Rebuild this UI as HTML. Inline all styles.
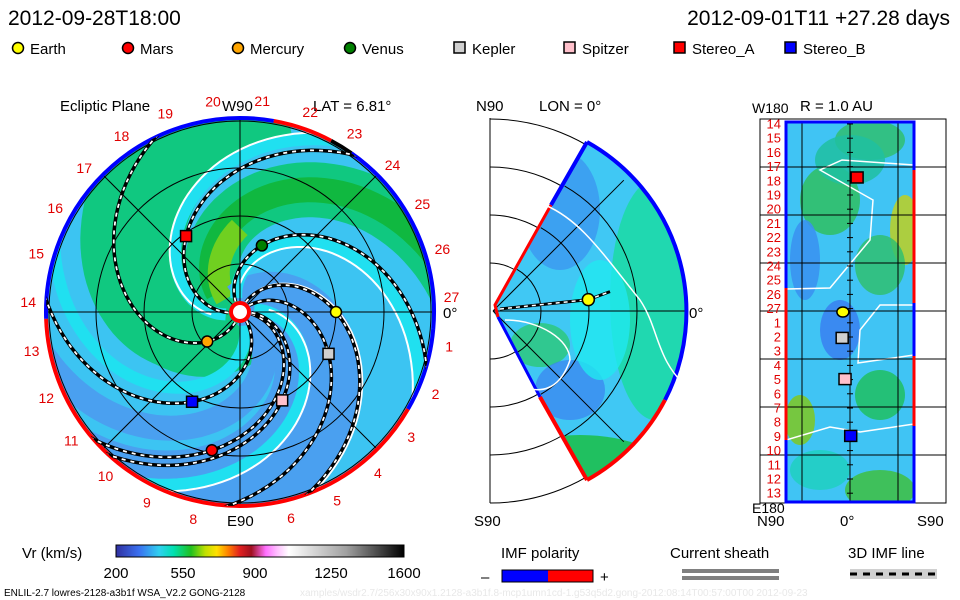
<!DOCTYPE html>
<html><head><meta charset="utf-8">
<style>
html,body{margin:0;padding:0;background:#fff;}
svg{display:block;font-family:"Liberation Sans",sans-serif;}
</style></head>
<body>
<svg id="root" width="960" height="600" viewBox="0 0 960 600" xmlns="http://www.w3.org/2000/svg">
<defs>
<clipPath id="discClip"><circle cx="240" cy="312" r="194"/></clipPath>
<clipPath id="wedgeClip"><path d="M493,311 L587,142 A194,194 0 0 1 587,480 Z"/></clipPath>
<clipPath id="rectClip"><rect x="786" y="122" width="128" height="380"/></clipPath>
<linearGradient id="cbar" x1="0" x2="1" y1="0" y2="0">
<stop offset="0" stop-color="#3030a0"/><stop offset="0.08" stop-color="#3a70f0"/>
<stop offset="0.15" stop-color="#30d0f0"/><stop offset="0.2" stop-color="#00e0b0"/>
<stop offset="0.26" stop-color="#20c020"/><stop offset="0.31" stop-color="#c0e000"/>
<stop offset="0.35" stop-color="#ffe000"/><stop offset="0.39" stop-color="#ff8000"/>
<stop offset="0.43" stop-color="#e02020"/><stop offset="0.47" stop-color="#a01020"/>
<stop offset="0.52" stop-color="#ff70ff"/><stop offset="0.56" stop-color="#ffc0ff"/>
<stop offset="0.6" stop-color="#ffffff"/><stop offset="0.8" stop-color="#a0a0a0"/>
<stop offset="1" stop-color="#000000"/></linearGradient>
</defs>

<text x="8" y="25" font-size="21">2012-09-28T18:00</text>
<text x="950" y="25" font-size="21" text-anchor="end">2012-09-01T11 +27.28 days</text>

<g id="legend" font-size="15"></g>

<g id="disc">
<text x="60" y="111" font-size="15">Ecliptic Plane</text>
<text x="222" y="111" font-size="15">W90</text>
<text x="313" y="111" font-size="15">LAT = 6.81°</text>
<text x="227" y="526" font-size="15">E90</text>
<text x="443" y="318" font-size="15">0°</text>
<circle cx="240" cy="312" r="194" fill="#3cc4f2"/>
<g id="discField" clip-path="url(#discClip)"></g>
<g id="discGrid"></g>
<g id="discBorder"></g>
<g id="discSpirals" clip-path="url(#discClip)"></g>
<g id="discLabels" font-size="14" fill="#e00000"></g>
<g id="discPlanets"></g>
</g>

<g id="mid">
<text x="476" y="111" font-size="15">N90</text>
<text x="539" y="111" font-size="15">LON = 0°</text>
<text x="474" y="526" font-size="15">S90</text>
<text x="689" y="318" font-size="15">0°</text>
<g id="midGrid"></g>
<path d="M493,311 L587,142 A194,194 0 0 1 587,480 Z" fill="#40c8f4"/>
<g id="midField" clip-path="url(#wedgeClip)"></g>
<g id="midLines"></g>
</g>

<g id="right">
<text x="800" y="111" font-size="15">R = 1.0 AU</text>
<text x="752" y="113" font-size="14">W180</text>
<text x="752" y="513" font-size="14">E180</text>
<text x="757" y="526" font-size="15">N90</text>
<text x="840" y="526" font-size="15">0°</text>
<text x="917" y="526" font-size="15">S90</text>
<rect x="760" y="119" width="186" height="384" fill="#fff" stroke="#000"/>
<rect x="786" y="122" width="128" height="380" fill="#40c4f4"/>
<g id="rightField" clip-path="url(#rectClip)"></g>
<g id="rightGrid"></g>
<g id="rightLabels" font-size="13" fill="#e00000"></g>
<g id="rightPlanets"></g>
</g>

<g>
<text x="22" y="558" font-size="15">Vr (km/s)</text>
<rect x="116" y="545" width="288" height="12" fill="url(#cbar)" stroke="#000"/>
<g font-size="15" text-anchor="middle">
<text x="116" y="578">200</text><text x="183" y="578">550</text><text x="255" y="578">900</text>
<text x="331" y="578">1250</text><text x="404" y="578">1600</text></g>
</g>
<g>
<text x="501" y="558" font-size="15">IMF polarity</text>
<text x="481" y="582" font-size="15">–</text>
<rect x="502" y="570" width="46" height="12" fill="#0000ff"/><rect x="548" y="570" width="45" height="12" fill="#ff0000"/>
<rect x="502" y="570" width="91" height="12" fill="none" stroke="#000"/>
<text x="600" y="582" font-size="15">+</text>
</g>
<g>
<text x="670" y="558" font-size="15">Current sheath</text>
<rect x="682" y="569" width="97" height="4" fill="#808080"/><rect x="682" y="576" width="97" height="4" fill="#808080"/>
</g>
<g>
<text x="848" y="558" font-size="15">3D IMF line</text>
<rect x="850" y="569" width="87" height="10" fill="#d0d0d0"/>
<line x1="850" y1="574" x2="937" y2="574" stroke="#000" stroke-width="3" stroke-dasharray="7,6"/>
</g>
<text x="4" y="596" font-size="10">ENLIL-2.7 lowres-2128-a3b1f WSA_V2.2 GONG-2128</text>
<text x="300" y="596" font-size="10" fill="#e8e8e8">xamples/wsdr2.7/256x30x90x1.2128-a3b1f.8-mcp1umn1cd-1.g53q5d2.gong-2012:08:14T00:57:00T00    2012-09-23</text>
</svg>
<script>
// ---------- data ----------
const planetNames = ["Earth","Mars","Mercury","Venus","Kepler","Spitzer","Stereo_A","Stereo_B"];
const planetShapes = ["circle","circle","circle","circle","square","square","square","square"];
const planetColors = ["#ffff00","#ff0000","#ffa500","#008000","#d0d0d0","#ffc0cb","#ff0000","#0000ff"];
const planetR = [1.0, 1.47, 0.46, 0.73, 1.02, 1.02, 0.97, 1.06];        // AU
const planetLon = [0, 258.5, 222, 71.8, 334.7, 295.5, 125.4, 241.9];    // deg
const midLat = [6.8];
const midR = [1.0];
const rightNames = ["Stereo_A","Earth","Kepler","Spitzer","Stereo_B"];
const rightLonIdx = [3.8, 13.24, 15.1, 18.0, 22.0];
const rightLat = [10, -10, -11, -7, 1];
const rotLabels = [14,15,16,17,18,19,20,21,22,23,24,25,26,27,1,2,3,4,5,6,7,8,9,10,11,12,13];
const borderSegs = [[-5,55,"#0000ff"],[55,62,"#000"],[62,80,"#ff0000"],[80,182,"#0000ff"],[182,330,"#ff0000"],[330,355,"#0000ff"]];
const greenBands = [234, 160, 268];
const greenWidths = [95, 55, 30];
const blueBands = [46, 5, 335];
const blueWidths = [55, 30, 25];
const spiralK = 68; // deg per AU

// ---------- helpers ----------
const NS="http://www.w3.org/2000/svg";
function mk(tag, attrs, parent){const e=document.createElementNS(NS,tag);for(const k in attrs)e.setAttribute(k,attrs[k]);parent.appendChild(e);return e;}
const CX=240, CY=312, AU=96;
function px(r,deg){const a=deg*Math.PI/180;return [CX+r*AU*Math.cos(a), CY-r*AU*Math.sin(a)];}
function spiralPath(phi0, r0, r1){let d="";for(let r=r0;r<=r1+1e-6;r+=0.04){const [x,y]=px(r,phi0-spiralK*r);d+=(d?"L":"M")+x.toFixed(1)+","+y.toFixed(1);}return d;}

// legend
const lg=document.getElementById("legend");
const legX=[12,122,232,344,454,564,674,785];
planetNames.forEach((n,i)=>{
  const g=mk("g",{},lg);
  
  
  const x=legX[i];
  if(planetShapes[i]==="circle") mk("circle",{cx:x+6,cy:48,r:5.5,fill:planetColors[i],stroke:"#000","stroke-width":1.5},g);
  else mk("rect",{x:x,y:42,width:11,height:11,fill:planetColors[i],stroke:"#000","stroke-width":1.5},g);
  const t=mk("text",{x:x+18,y:54},g); t.textContent=n;
});

// disc field
const df=document.getElementById("discField");
greenBands.forEach((p,i)=>{
  const e=mk("path",{d:spiralPath(p,0.05,2.3),fill:"none",stroke:"#10c880","stroke-width":greenWidths[i]},df);
  
  
});
mk("path",{d:spiralPath(160,0.3,2.3),fill:"none",stroke:"#10b840","stroke-width":25},df);
mk("path",{d:spiralPath(150,0.2,0.9),fill:"none",stroke:"#70d020","stroke-width":22},df);
blueBands.forEach((p,i)=>{
  const e=mk("path",{d:spiralPath(p,0.05,2.3),fill:"none",stroke:"#4aa0f0","stroke-width":blueWidths[i]},df);
  
  
});
[200,115,20,300].forEach(p=>mk("path",{d:spiralPath(p,0.15,2.3),fill:"none",stroke:"#20e0f0","stroke-width":12},df));
[205,110,25,70].forEach(p=>mk("path",{d:spiralPath(p,0.3,2.3),fill:"none",stroke:"#fff","stroke-width":2},df));

// disc grid
const dg=document.getElementById("discGrid");
[0.5,1,1.5,2].forEach(r=>mk("circle",{cx:CX,cy:CY,r:r*AU*(r===2?0.995:1),fill:"none",stroke:"#000","stroke-width":1},dg));
for(let a=0;a<180;a+=45){const [x1,y1]=px(2.02,a),[x2,y2]=px(2.02,a+180);mk("line",{x1,y1,x2,y2,stroke:"#000","stroke-width":1},dg);}
const db=document.getElementById("discBorder");
borderSegs.forEach(s=>{
  const R=194;const [x1,y1]=[CX+R*Math.cos(s[0]*Math.PI/180),CY-R*Math.sin(s[0]*Math.PI/180)];
  const [x2,y2]=[CX+R*Math.cos(s[1]*Math.PI/180),CY-R*Math.sin(s[1]*Math.PI/180)];
  const large=(s[1]-s[0])>180?1:0;
  const e=mk("path",{d:`M${x1},${y1} A${R},${R} 0 ${large} 0 ${x2},${y2}`,fill:"none",stroke:s[2],"stroke-width":4},db);
  
  
});
// spirals through each spacecraft
const ds=document.getElementById("discSpirals");
planetNames.forEach((n,i)=>{
  const p0=planetLon[i]+spiralK*planetR[i];
  const d=spiralPath(p0,0.12,2.1);
  const e=mk("path",{d,fill:"none",stroke:"#000","stroke-width":3.5},ds);
  
  
  mk("path",{d,fill:"none",stroke:"#fff","stroke-width":1.8,"stroke-dasharray":"4,5"},ds);
});
const sun=mk("circle",{cx:CX,cy:CY,r:9,fill:"#fff",stroke:"#ff0000","stroke-width":4},document.getElementById("disc"));


const dl=document.getElementById("discLabels");
for(let n=1;n<=27;n++){
  if(n===7) continue;
  const a=(4+(27-n)*13.33)*Math.PI/180;
  const t=mk("text",{x:(CX+212*Math.cos(a)).toFixed(1),y:(CY-212*Math.sin(a)+5).toFixed(1),"text-anchor":"middle"},dl);
  t.textContent=n;
}
const dp=document.getElementById("discPlanets");
planetNames.forEach((n,i)=>{
  const [x,y]=px(planetR[i],planetLon[i]);let e;
  if(planetShapes[i]==="circle") e=mk("circle",{cx:x,cy:y,r:5.5,fill:planetColors[i],stroke:"#000","stroke-width":1.5},dp);
  else e=mk("rect",{x:x-5.5,y:y-5.5,width:11,height:11,fill:planetColors[i],stroke:"#000","stroke-width":1.5},dp);
  
  
});

// middle panel
const MX=493,MY=311;
const mg=document.getElementById("midGrid");
mk("line",{x1:490,y1:118,x2:490,y2:503,stroke:"#000"},mg);
[48,96,144,192].forEach(r=>mk("path",{d:`M490,${MY-r} A${r},${r} 0 0 1 490,${MY+r}`,fill:"none",stroke:"#000"},mg));
const mf=document.getElementById("midField");
mk("ellipse",{cx:655,cy:300,rx:45,ry:120,fill:"#20d8b0"},mf);
mk("ellipse",{cx:580,cy:475,rx:90,ry:40,fill:"#20c060"},mf);
mk("ellipse",{cx:540,cy:345,rx:30,ry:22,fill:"#30c890"},mf);
mk("ellipse",{cx:560,cy:210,rx:40,ry:60,fill:"#3a90f0",opacity:0.7},mf);
mk("ellipse",{cx:570,cy:390,rx:35,ry:30,fill:"#3a80f0",opacity:0.7},mf);
mk("ellipse",{cx:600,cy:320,rx:30,ry:60,fill:"#20e8f0",opacity:0.8},mf);
const ml=document.getElementById("midLines");
[45,-45,0].forEach(a=>{const r=a?185:194;const ar=a*Math.PI/180;mk("line",{x1:MX,y1:MY,x2:MX+r*Math.cos(ar),y2:MY-r*Math.sin(ar),stroke:"#000"},ml);});
[48,96,144].forEach(r=>mk("path",{d:`M${MX+r*Math.cos(1.05)},${MY-r*Math.sin(1.05)} A${r},${r} 0 0 1 ${MX+r*Math.cos(1.05)},${MY+r*Math.sin(1.05)}`,fill:"none",stroke:"#000"},ml));
mk("path",{d:"M587,142 A194,194 0 0 1 665,400",fill:"none",stroke:"#0000ff","stroke-width":4},ml);
mk("path",{d:"M665,400 A194,194 0 0 1 587,480",fill:"none",stroke:"#ff0000","stroke-width":4},ml);
mk("path",{d:"M587,142 L551,205",fill:"none",stroke:"#0000ff","stroke-width":4},ml);
mk("path",{d:"M551,205 L495,305 L498,317",fill:"none",stroke:"#ff0000","stroke-width":3},ml);
mk("path",{d:"M498,317 L540,397",fill:"none",stroke:"#0000ff","stroke-width":3},ml);
mk("path",{d:"M540,397 L587,480",fill:"none",stroke:"#ff0000","stroke-width":4},ml);
mk("path",{d:"M545,205 C580,220 600,250 640,300 C660,330 655,360 690,390",fill:"none",stroke:"#fff","stroke-width":1.5},ml);
mk("path",{d:"M505,320 C540,320 570,340 570,360 C560,390 540,395 520,385",fill:"none",stroke:"#fff","stroke-width":1.5},ml);
midLat.forEach((lat,i)=>{
  const a=lat*Math.PI/180;const x=MX+midR[i]*AU*Math.cos(a),y=MY-midR[i]*AU*Math.sin(a);
  mk("path",{d:`M500,${MY-2} L${x},${y} L610,${y-8}`,fill:"none",stroke:"#000","stroke-width":3},ml);
  mk("path",{d:`M500,${MY-2} L${x},${y} L610,${y-8}`,fill:"none",stroke:"#fff","stroke-width":1.5,"stroke-dasharray":"4,4"},ml);
  const e=mk("circle",{cx:x,cy:y,r:6,fill:"#ffff00",stroke:"#000","stroke-width":1.5},ml);
  
  
});

// right panel
const rf=document.getElementById("rightField");
[[830,200,30,35,"#30c060"],[870,140,35,20,"#30c070"],[905,230,15,35,"#c0d020"],[880,265,25,30,"#30c070"],[850,160,35,25,"#20c0a0"],[880,395,25,25,"#20c060"],[800,420,15,25,"#80c820"],[880,490,35,20,"#40c040"],[820,470,30,20,"#20d0c0"],[840,330,20,30,"#3a80f0"],[805,260,15,40,"#3a90f0"]].forEach(e=>mk("ellipse",{cx:e[0],cy:e[1],rx:e[2],ry:e[3],fill:e[4],opacity:0.85},rf));
mk("path",{d:"M786,289 L830,288 L870,240 L873,200 L820,170 L842,160 L914,165",fill:"none",stroke:"#fff","stroke-width":1.5},rf);
mk("path",{d:"M914,305 L880,305 L860,330 L858,363 L914,355",fill:"none",stroke:"#fff","stroke-width":1.5},rf);
mk("path",{d:"M786,440 L830,427 L860,432 L914,424",fill:"none",stroke:"#fff","stroke-width":1.5},rf);
const rg=document.getElementById("rightGrid");
[802,850,898].forEach(x=>mk("line",{x1:x,y1:122,x2:x,y2:502,stroke:"#000"},rg));
for(let k=1;k<=7;k++){const y=119+k*48;mk("line",{x1:760,y1:y,x2:946,y2:y,stroke:"#000"},rg);}
rotLabels.forEach((n,i)=>{const y=124+i*14.2;mk("line",{x1:847,y1:y,x2:853,y2:y,stroke:"#000"},rg);});
mk("rect",{x:786,y:122,width:128,height:380,fill:"none",stroke:"#0000ff","stroke-width":3},rg);
mk("line",{x1:786,y1:288,x2:786,y2:440,stroke:"#ff0000","stroke-width":3},rg);
mk("line",{x1:914,y1:170,x2:914,y2:303,stroke:"#ff0000","stroke-width":3},rg);
mk("line",{x1:914,y1:356,x2:914,y2:426,stroke:"#ff0000","stroke-width":3},rg);
const rl=document.getElementById("rightLabels");
rotLabels.forEach((n,i)=>{const t=mk("text",{x:781,y:(128.5+i*14.2).toFixed(1),"text-anchor":"end"},rl);t.textContent=n;});
const rp=document.getElementById("rightPlanets");
rightNames.forEach((n,i)=>{
  const idx=planetNames.indexOf(n);const x=850+rightLat[i]*0.711,y=124+rightLonIdx[i]*14.2;let e;
  if(planetShapes[idx]==="circle") e=mk("ellipse",{cx:x,cy:y,rx:6,ry:5,fill:planetColors[idx],stroke:"#000","stroke-width":1.5},rp);
  else e=mk("rect",{x:x-6,y:y-6,width:12,height:11,fill:planetColors[idx],stroke:"#000","stroke-width":1.5},rp);
  
  
});
</script>
</body></html>
